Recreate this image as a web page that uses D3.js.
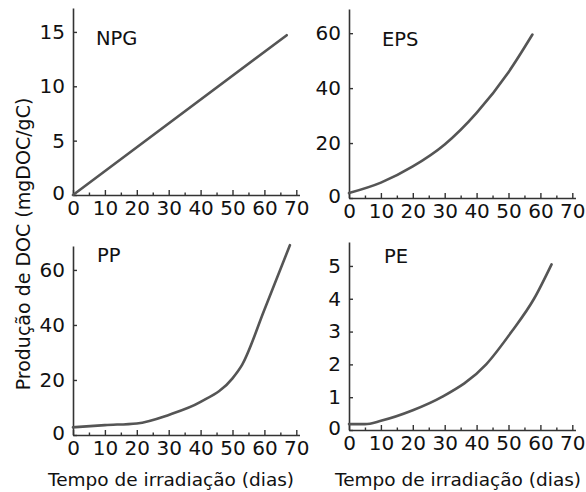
<!DOCTYPE html>
<html>
<head>
<meta charset="utf-8">
<script src="https://cdn.jsdelivr.net/npm/d3@7"></script>
<style>
  html, body { margin: 0; padding: 0; background: #fff; }
  svg { display: block; }
  text { font-family: "DejaVu Sans", Verdana, sans-serif; fill: #111; }
</style>
</head>
<body>
<svg id="chart" width="586" height="492"></svg>
<script>
// Irradiation time (days) and DOC production (mgDOC/gC) for each plastic type
const npgDays   = [0, 67];
const npgValues = [0, 14.7];

const epsDays   = [0, 10, 20, 30, 40, 50, 57.5];
const epsValues = [1.8, 5.6, 11.5, 19.5, 31, 45.8, 59.5];

const ppDays    = [0, 10, 20, 30, 40, 50, 53, 60, 68];
const ppValues  = [2.8, 3.6, 4.2, 7.3, 12, 20.6, 25.5, 45.5, 69];

const peDays    = [0, 5, 10, 20, 29, 43, 51, 58, 63.5];
const peValues  = [0.18, 0.18, 0.28, 0.6, 1.0, 2.0, 3.0, 4.0, 5.05];

const xTicks      = [0, 10, 20, 30, 40, 50, 60, 70];
const xMinorTicks = [5, 15, 25, 35, 45, 55, 65];
const npgTicks = [0, 5, 10, 15];
const epsTicks = [0, 20, 40, 60];
const ppTicks  = [0, 20, 40, 60];
const peTicks  = [0, 1, 2, 3, 4, 5];

const xTitle = "Tempo de irradiação (dias)";
const yTitle = "Produção de DOC (mgDOC/gC)";

const svg = d3.select("#chart");

// panel frames: left edge of y axis, baseline of x axis, top of y axis
const panels = [
  { name: "NPG", days: npgDays, values: npgValues, ticks: npgTicks, yMax: 17.2, left: 73,  bottom: 195, top: 8,   label: [96, 45] },
  { name: "EPS", days: epsDays, values: epsValues, ticks: epsTicks, yMax: 68.8, left: 349, bottom: 198, top: 9,   label: [382, 46] },
  { name: "PP",  days: ppDays,  values: ppValues,  ticks: ppTicks,  yMax: 68.7, left: 73,  bottom: 435, top: 246, label: [97, 262] },
  { name: "PE",  days: peDays,  values: peValues,  ticks: peTicks,  yMax: 5.73, left: 349, bottom: 430, top: 242, label: [384, 263] }
];

const tenDays = 31.9;  // pixel width of a 10-day step

panels.forEach(p => {
  const x = d3.scaleLinear().domain([0, 71]).range([p.left, p.left + tenDays * 7.1]);
  const y = d3.scaleLinear().domain([0, p.yMax]).range([p.bottom, p.top]);
  const g = svg.append("g");

  // minor x ticks
  g.append("g")
    .attr("transform", `translate(0,${p.bottom})`)
    .call(d3.axisBottom(x).tickValues(xMinorTicks).tickSize(-2.5).tickSizeOuter(0).tickFormat(""))
    .call(a => a.select(".domain").remove())
    .call(a => a.selectAll("line").attr("stroke", "#333").attr("stroke-width", 1.4));

  // major x axis
  g.append("g")
    .attr("transform", `translate(0,${p.bottom})`)
    .call(d3.axisBottom(x).tickValues(xTicks).tickSize(-5).tickSizeOuter(0).tickPadding(6))
    .call(a => a.select(".domain").attr("stroke", "#333").attr("stroke-width", 1.6))
    .call(a => a.selectAll("line").attr("stroke", "#333").attr("stroke-width", 1.4))
    .call(a => a.selectAll("text").attr("font-size", 20).attr("font-family", "DejaVu Sans").attr("fill", "#111"));

  // y axis
  g.append("g")
    .attr("transform", `translate(${p.left},0)`)
    .call(d3.axisLeft(y).tickValues(p.ticks).tickFormat(d3.format("d")).tickSize(-4).tickSizeOuter(0).tickPadding(8))
    .call(a => a.select(".domain").attr("stroke", "#333").attr("stroke-width", 1.6))
    .call(a => a.selectAll("line").attr("stroke", "#333").attr("stroke-width", 1.4))
    .call(a => a.selectAll("text").attr("font-size", 20).attr("font-family", "DejaVu Sans").attr("fill", "#111"))
    .call(a => a.selectAll(".tick").filter(d => d === 0).select("text").attr("dy", "0.2em"));

  // production curve
  const line = d3.line()
    .x((d, i) => x(p.days[i]))
    .y(d => y(d))
    .curve(d3.curveMonotoneX);
  g.append("path")
    .datum(p.values)
    .attr("fill", "none")
    .attr("stroke", "#555")
    .attr("stroke-width", 2.6)
    .attr("stroke-linecap", "round")
    .attr("d", line);

  g.append("text")
    .attr("x", p.label[0]).attr("y", p.label[1])
    .attr("font-size", 19.5)
    .text(p.name);
});

// axis titles
svg.append("text").attr("x", 48).attr("y", 486).attr("font-size", 18.5).text(xTitle);
svg.append("text").attr("x", 335).attr("y", 486).attr("font-size", 18.5).text(xTitle);
svg.append("text")
  .attr("transform", "translate(30,244) rotate(-90)")
  .attr("text-anchor", "middle")
  .attr("font-size", 19)
  .text(yTitle);
</script>
</body>
</html>
